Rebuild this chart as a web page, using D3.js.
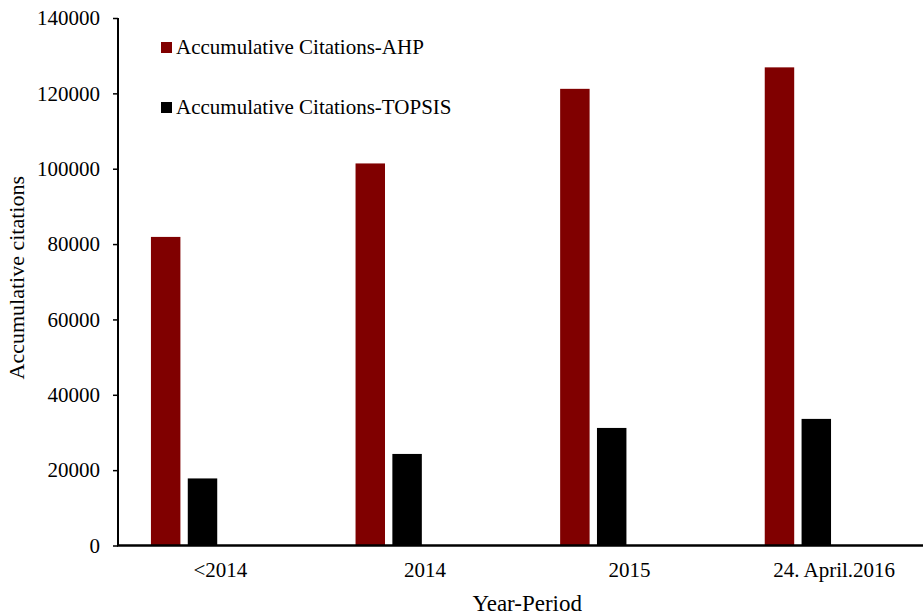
<!DOCTYPE html>
<html>
<head>
<meta charset="utf-8">
<script src="https://cdn.jsdelivr.net/npm/d3@7"></script>
<style>
  html, body { margin: 0; padding: 0; background: #fff; }
  svg { display: block; }
  text { font-family: "Liberation Serif", "Times New Roman", serif; fill: #000; }
</style>
</head>
<body>
<svg id="chart" width="923" height="615"></svg>
<script>
// Accumulative citations per period for AHP and TOPSIS
const periods = ["<2014", "2014", "2015", "24. April.2016"];
const ahpCitations = [81900, 101400, 121200, 126900];
const topsisCitations = [17800, 24300, 31200, 33600];
const seriesNames = ["Accumulative Citations-AHP", "Accumulative Citations-TOPSIS"];
const seriesColors = ["#800000", "#000000"];
const yTicks = [0, 20000, 40000, 60000, 80000, 100000, 120000, 140000];

const series = [ahpCitations, topsisCitations];
const rows = periods.map((p, i) => ({ period: p, values: series.map(s => s[i]) }));

const svg = d3.select("#chart");
const plotLeft = 118, plotTop = 18, plotBottom = 545.5;
const bandW = 204.6;
const plotRight = plotLeft + bandW * periods.length; // category axis runs past the visible edge
const fontStack = '"Liberation Serif", "Times New Roman", serif';

const x0 = d3.scaleBand().domain(periods).range([plotLeft, plotRight]).padding(0);
// bars occupy the left part of each category slot
const x1 = d3.scaleBand().domain(d3.range(series.length))
  .range([bandW * 0.161, bandW * 0.485]).paddingInner(0.2).paddingOuter(0);
const y = d3.scaleLinear().domain([0, 140000]).range([plotBottom, plotTop]);

// bars
const groups = svg.append("g").selectAll("g").data(rows).join("g")
  .attr("transform", d => `translate(${x0(d.period)},0)`);
groups.selectAll("rect").data(d => d.values.map((v, k) => ({ v, k })))
  .join("rect")
  .attr("x", d => x1(d.k))
  .attr("width", x1.bandwidth())
  .attr("y", d => y(d.v))
  .attr("height", d => y(0) - y(d.v))
  .attr("fill", d => seriesColors[d.k]);

// y axis
const yAxis = svg.append("g").attr("transform", `translate(${plotLeft},0)`)
  .call(d3.axisLeft(y).tickValues(yTicks).tickFormat(d3.format("d")).tickSize(5).tickPadding(13));
yAxis.select(".domain").attr("stroke", "#000").attr("stroke-width", 2)
  .attr("d", `M0,${plotTop}V${plotBottom}`);
yAxis.selectAll(".tick line").attr("stroke", "#000").attr("stroke-width", 1.5);
yAxis.selectAll(".tick text").attr("font-size", 21).style("font-family", fontStack);

// x axis
const xAxis = svg.append("g").attr("transform", `translate(0,${plotBottom})`)
  .call(d3.axisBottom(x0).tickSize(0).tickPadding(17));
xAxis.select(".domain").attr("stroke", "#000").attr("stroke-width", 2.5)
  .attr("d", `M${plotLeft - 1},0H${plotRight}`);
xAxis.selectAll(".tick text").attr("font-size", 21).style("font-family", fontStack);

// axis titles
svg.append("text").attr("x", (plotLeft + plotRight) / 2).attr("y", 611)
  .attr("text-anchor", "middle").attr("font-size", 23).text("Year-Period");
svg.append("text")
  .attr("transform", `translate(24,${(plotTop + plotBottom) / 2 - 4}) rotate(-90)`)
  .attr("text-anchor", "middle").attr("font-size", 22).text("Accumulative citations");

// legend
const legend = svg.append("g").selectAll("g").data(seriesNames).join("g")
  .attr("transform", (d, i) => `translate(161,${42 + i * 60})`);
legend.append("rect").attr("width", 11).attr("height", 11)
  .attr("fill", (d, i) => seriesColors[i]);
legend.append("text").attr("x", 15).attr("y", 11.5).attr("font-size", 21).text(d => d);
</script>
</body>
</html>
